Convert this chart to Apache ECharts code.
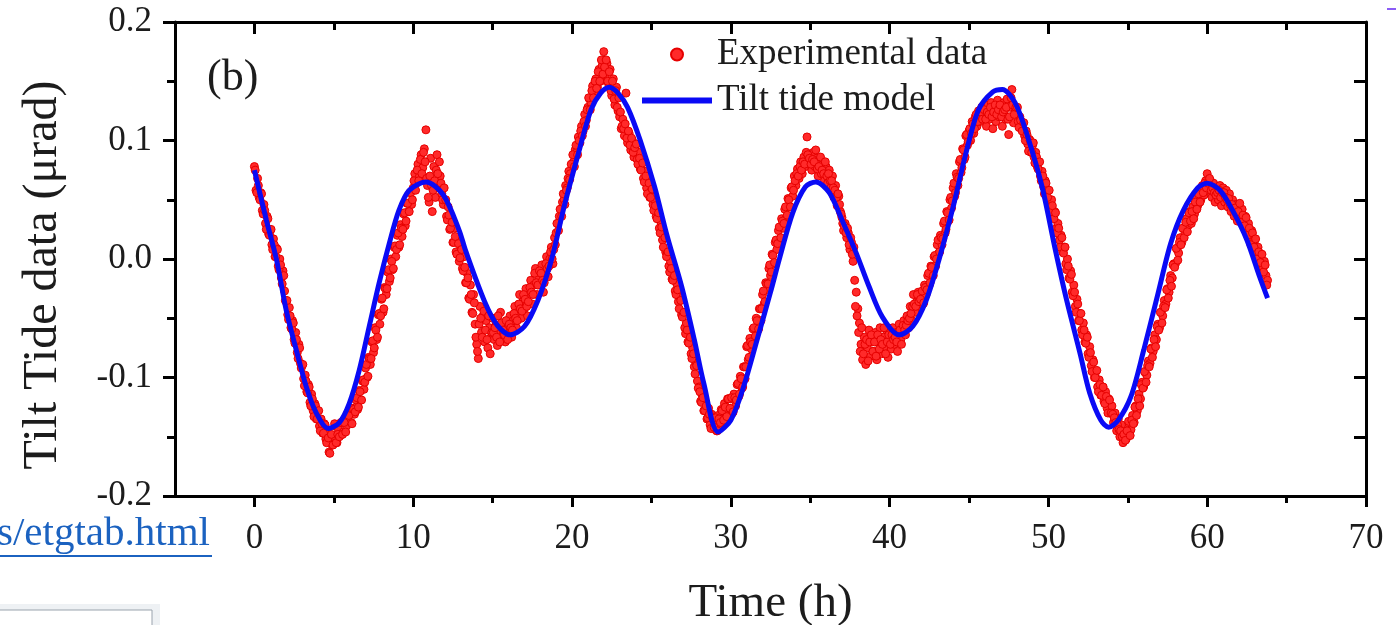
<!DOCTYPE html>
<html><head><meta charset="utf-8">
<script src="https://cdn.jsdelivr.net/npm/echarts@6/dist/echarts.min.js"></script>
<style>html,body{margin:0;padding:0;background:#fff}#c{width:1396px;height:625px}</style>
</head><body><div id="c"></div><script>
// ---- data ----
const xLabelValues = [0, 10, 20, 30, 40, 50, 60, 70];
const xMinorValues = [5, 15, 25, 35, 45, 55, 65];
const legendNames = ['Experimental data', 'Tilt tide model'];
// Tilt tide model: [time (h), tilt (µrad)]
const modelCurve = [
[0.0,0.075],[0.75,0.033],[1.4,-0.001],[2.0,-0.043],[2.64,-0.077],[3.27,-0.108],[3.9,-0.130],[4.65,-0.143],[5.35,-0.138],[5.97,-0.122],
[6.6,-0.094],[7.23,-0.057],[7.86,-0.020],[8.49,0.013],[9.1,0.041],[9.75,0.058],[10.8,0.065],[11.9,0.054],[12.9,0.024],[13.3,0.007],
[14.5,-0.036],[15.3,-0.056],[16.1,-0.064],[17.0,-0.057],[17.85,-0.035],[18.7,-0.001],[19.5,0.044],[20.4,0.089],[21.2,0.126],[21.8,0.140],
[22.35,0.145],[22.9,0.140],[23.5,0.128],[24.3,0.100],[25.2,0.061],[26.0,0.019],[26.9,-0.023],[27.7,-0.068],[28.3,-0.105],[29.2,-0.146],
[30.0,-0.136],[30.8,-0.108],[31.7,-0.066],[32.5,-0.028],[33.1,0.002],[33.9,0.039],[34.7,0.061],[35.35,0.065],[36.2,0.056],[37.0,0.033],
[37.9,0.005],[38.7,-0.023],[39.55,-0.049],[40.6,-0.064],[41.45,-0.057],[42.3,-0.035],[43.1,-0.001],[44.0,0.044],[44.8,0.089],[45.6,0.126],
[46.5,0.141],[47.1,0.143],[47.9,0.132],[48.7,0.103],[49.6,0.061],[50.4,0.010],[51.1,-0.032],[52.0,-0.080],[52.6,-0.113],[53.3,-0.136],
[53.8,-0.142],[54.4,-0.136],[55.2,-0.116],[56.0,-0.077],[56.85,-0.032],[57.7,0.013],[58.5,0.041],[59.4,0.060],[60.0,0.064],[60.8,0.058],
[61.6,0.041],[62.5,0.016],[63.3,-0.015],[63.8,-0.033]
];
// Experimental data, one row per hour: samples at h + 0.0, 0.1, ... 0.9
const expRowsA = [
[0.078,0.058,0.068,0.052,0.056,0.041,0.046,0.030,0.036,0.021],
[0.024,0.012,0.017,0.002,0.009,-0.006,0.000,-0.016,-0.010,-0.027],
[-0.036,-0.047,-0.041,-0.058,-0.052,-0.068,-0.062,-0.079,-0.072,-0.088],
[-0.090,-0.101,-0.098,-0.112,-0.106,-0.121,-0.114,-0.128,-0.122,-0.135],
[-0.128,-0.141,-0.135,-0.147,-0.139,-0.152,-0.145,-0.163,-0.150,-0.157],
[-0.150,-0.141,-0.155,-0.144,-0.149,-0.138,-0.146,-0.135,-0.141,-0.130],
[-0.128,-0.138,-0.126,-0.131,-0.119,-0.127,-0.111,-0.119,-0.103,-0.110],
[-0.092,-0.100,-0.083,-0.089,-0.070,-0.079,-0.058,-0.068,-0.047,-0.055],
[-0.034,-0.045,-0.024,-0.030,-0.011,-0.019,0.000,-0.009,0.010,0.002],
[0.020,0.010,0.029,0.019,0.038,0.028,0.047,0.040,0.056,0.046],
[0.060,0.072,0.064,0.080,0.070,0.088,0.077,0.093,0.109,0.062],
[0.048,0.085,0.040,0.078,0.052,0.088,0.060,0.070,0.055,0.046],
[0.050,0.036,0.044,0.025,0.035,0.014,0.026,0.006,0.018,-0.002],
[0.010,-0.008,0.002,-0.020,-0.012,-0.033,-0.022,-0.045,-0.030,-0.055],
[-0.072,-0.084,-0.040,-0.062,-0.048,-0.070,-0.052,-0.075,-0.058,-0.066],
[-0.050,-0.068,-0.056,-0.073,-0.060,-0.045,-0.066,-0.055,-0.070,-0.058],
[-0.062,-0.048,-0.066,-0.052,-0.040,-0.058,-0.045,-0.030,-0.050,-0.036],
[-0.042,-0.025,-0.048,-0.030,-0.018,-0.038,-0.022,-0.008,-0.030,-0.015],
[-0.022,-0.005,-0.028,-0.012,0.002,-0.015,0.000,0.010,-0.004,0.018],
[0.022,0.030,0.036,0.042,0.048,0.050,0.062,0.060,0.074,0.072],
[0.080,0.082,0.092,0.090,0.103,0.098,0.112,0.108,0.122,0.117],
[0.128,0.135,0.132,0.146,0.140,0.152,0.145,0.160,0.150,0.163],
[0.175,0.155,0.165,0.148,0.160,0.138,0.152,0.130,0.145,0.125],
[0.120,0.110,0.118,0.104,0.140,0.098,0.106,0.092,0.100,0.086],
[0.096,0.084,0.090,0.076,0.082,0.068,0.074,0.060,0.066,0.052],
[0.058,0.046,0.050,0.036,0.040,0.026,0.031,0.016,0.021,0.006],
[0.005,-0.006,-0.002,-0.017,-0.012,-0.027,-0.021,-0.036,-0.032,-0.047],
[-0.045,-0.058,-0.054,-0.070,-0.064,-0.080,-0.075,-0.091,-0.087,-0.103],
[-0.108,-0.120,-0.115,-0.128,-0.122,-0.135,-0.126,-0.140,-0.131,-0.143],
[-0.136,-0.145,-0.132,-0.141,-0.127,-0.138,-0.122,-0.133,-0.118,-0.128],
[-0.118,-0.130,-0.114,-0.124,-0.106,-0.116,-0.099,-0.109,-0.091,-0.101],
[-0.074,-0.085,-0.067,-0.076,-0.059,-0.068,-0.050,-0.060,-0.042,-0.052],
[-0.030,-0.038,-0.020,-0.026,-0.008,-0.014,0.004,-0.004,0.014,0.008],
[0.024,0.016,0.034,0.026,0.042,0.035,0.051,0.044,0.060,0.053],
[0.070,0.062,0.076,0.068,0.082,0.072,0.086,0.078,0.103,0.080],
[0.088,0.075,0.090,0.078,0.085,0.070,0.083,0.072,0.080,0.066],
[0.078,0.064,0.075,0.060,0.070,0.052,0.062,0.045,0.053,0.040],
[0.035,0.024,0.030,0.018,0.022,0.008,0.014,-0.002,-0.018,-0.028],
[-0.042,-0.054,-0.072,-0.085,-0.066,-0.089,-0.075,-0.060,-0.082,-0.070],
[-0.078,-0.062,-0.085,-0.070,-0.058,-0.080,-0.066,-0.074,-0.060,-0.083],
[-0.068,-0.076,-0.058,-0.072,-0.062,-0.078,-0.055,-0.068,-0.060,-0.052],
[-0.064,-0.048,-0.058,-0.040,-0.052,-0.030,-0.045,-0.036,-0.028,-0.040],
[-0.030,-0.038,-0.022,-0.030,-0.014,-0.022,-0.006,-0.014,0.002,-0.006],
[0.012,0.005,0.020,0.012,0.030,0.022,0.040,0.032,0.050,0.043],
[0.060,0.053,0.072,0.062,0.082,0.073,0.093,0.084,0.104,0.096],
[0.108,0.100,0.116,0.106,0.120,0.112,0.125,0.116,0.128,0.120],
[0.124,0.112,0.130,0.118,0.132,0.110,0.128,0.116,0.134,0.120],
[0.126,0.112,0.132,0.118,0.135,0.105,0.128,0.143,0.115,0.124],
[0.126,0.116,0.120,0.110,0.115,0.104,0.108,0.097,0.101,0.090],
[0.096,0.086,0.090,0.078,0.082,0.070,0.074,0.061,0.066,0.052],
[0.058,0.044,0.050,0.036,0.040,0.026,0.030,0.016,0.020,0.006],
[0.010,-0.004,0.000,-0.016,-0.010,-0.028,-0.022,-0.040,-0.034,-0.052],
[-0.046,-0.060,-0.054,-0.070,-0.064,-0.080,-0.074,-0.090,-0.085,-0.100],
[-0.095,-0.108,-0.102,-0.115,-0.108,-0.120,-0.112,-0.126,-0.118,-0.130],
[-0.124,-0.138,-0.130,-0.145,-0.135,-0.150,-0.140,-0.155,-0.146,-0.152],
[-0.148,-0.140,-0.144,-0.132,-0.138,-0.124,-0.128,-0.114,-0.118,-0.104],
[-0.108,-0.096,-0.098,-0.086,-0.088,-0.075,-0.078,-0.064,-0.068,-0.055],
[-0.058,-0.045,-0.048,-0.035,-0.038,-0.025,-0.028,-0.014,-0.016,-0.004],
[-0.004,0.008,0.005,0.018,0.014,0.026,0.022,0.034,0.028,0.040],
[0.030,0.044,0.038,0.052,0.045,0.058,0.050,0.062,0.054,0.066],
[0.072,0.058,0.066,0.052,0.064,0.048,0.060,0.050,0.062,0.045],
[0.060,0.048,0.058,0.044,0.055,0.040,0.050,0.036,0.046,0.032],
[0.046,0.034,0.042,0.028,0.036,0.022,0.030,0.016,0.024,0.010],
[0.016,0.004,0.010,-0.003,0.004,-0.008,-0.002,-0.014,-0.018]
];
// Experimental data, one row per hour: samples at h + 0.05, 0.15, ... 0.95
const expRowsB = [
[0.075,0.056,0.062,0.050,0.055,0.038,0.041,0.025,0.034,0.020],
[0.025,0.008,0.012,0.002,0.008,-0.009,-0.005,-0.021,-0.014,-0.035],
[-0.035,-0.051,-0.048,-0.059,-0.054,-0.071,-0.068,-0.084,-0.075,-0.092],
[-0.089,-0.107,-0.103,-0.113,-0.108,-0.124,-0.118,-0.133,-0.124,-0.135],
[-0.128,-0.145,-0.139,-0.147,-0.140,-0.155,-0.151,-0.164,-0.148,-0.157],
[-0.139,-0.155,-0.148,-0.150,-0.138,-0.148,-0.138,-0.146,-0.131,-0.132],
[-0.126,-0.139,-0.127,-0.129,-0.117,-0.125,-0.112,-0.119,-0.102,-0.104],
[-0.089,-0.099,-0.084,-0.084,-0.069,-0.075,-0.060,-0.066,-0.046,-0.048],
[-0.033,-0.042,-0.025,-0.025,-0.009,-0.016,-0.002,-0.008,0.011,0.008],
[0.022,0.012,0.026,0.025,0.039,0.032,0.047,0.040,0.056,0.050],
[0.066,0.058,0.075,0.066,0.084,0.072,0.090,0.082,0.068,0.052],
[0.070,0.062,0.058,0.066,0.075,0.072,0.082,0.064,0.050,0.060],
[0.050,0.033,0.037,0.026,0.031,0.014,0.019,0.004,0.013,0.001],
[0.008,-0.010,-0.007,-0.020,-0.016,-0.034,-0.030,-0.046,-0.037,-0.066],
[-0.078,-0.055,-0.050,-0.066,-0.044,-0.060,-0.068,-0.048,-0.080,-0.062],
[-0.062,-0.058,-0.066,-0.048,-0.070,-0.054,-0.060,-0.064,-0.052,-0.068],
[-0.055,-0.058,-0.060,-0.046,-0.050,-0.052,-0.038,-0.042,-0.044,-0.030],
[-0.034,-0.040,-0.036,-0.024,-0.028,-0.030,-0.012,-0.020,-0.022,-0.010],
[-0.012,-0.018,-0.020,-0.004,-0.008,-0.006,0.006,0.000,0.008,0.012],
[0.030,0.024,0.042,0.036,0.055,0.046,0.058,0.068,0.067,0.080],
[0.088,0.078,0.096,0.088,0.100,0.108,0.104,0.116,0.112,0.126],
[0.136,0.126,0.142,0.136,0.150,0.144,0.158,0.150,0.168,0.156],
[0.162,0.168,0.150,0.158,0.142,0.150,0.135,0.142,0.128,0.136],
[0.124,0.112,0.110,0.114,0.102,0.108,0.096,0.102,0.090,0.094],
[0.097,0.080,0.085,0.075,0.081,0.065,0.070,0.055,0.064,0.052],
[0.059,0.041,0.045,0.034,0.039,0.022,0.027,0.010,0.018,0.002],
[0.006,-0.011,-0.008,-0.018,-0.014,-0.030,-0.026,-0.042,-0.035,-0.049],
[-0.045,-0.063,-0.060,-0.071,-0.066,-0.084,-0.080,-0.097,-0.090,-0.109],
[-0.112,-0.121,-0.117,-0.128,-0.124,-0.134,-0.131,-0.143,-0.134,-0.142],
[-0.134,-0.145,-0.135,-0.138,-0.128,-0.136,-0.125,-0.133,-0.118,-0.126],
[-0.117,-0.129,-0.117,-0.119,-0.105,-0.114,-0.101,-0.108,-0.091,-0.091],
[-0.073,-0.083,-0.070,-0.072,-0.058,-0.065,-0.052,-0.059,-0.042,-0.042],
[-0.027,-0.036,-0.021,-0.021,-0.005,-0.011,0.003,-0.003,0.016,0.013],
[0.027,0.018,0.032,0.030,0.044,0.037,0.050,0.044,0.061,0.058],
[0.066,0.072,0.070,0.078,0.075,0.082,0.080,0.090,0.088,0.085],
[0.080,0.084,0.082,0.092,0.076,0.078,0.086,0.075,0.072,0.082],
[0.070,0.072,0.066,0.066,0.060,0.058,0.052,0.055,0.046,0.038],
[0.030,0.028,0.022,0.026,0.012,0.018,0.004,0.010,-0.040,-0.048],
[-0.062,-0.078,-0.058,-0.080,-0.072,-0.068,-0.086,-0.070,-0.064,-0.078],
[-0.070,-0.082,-0.064,-0.076,-0.068,-0.072,-0.058,-0.080,-0.070,-0.064],
[-0.072,-0.064,-0.068,-0.066,-0.070,-0.062,-0.060,-0.072,-0.056,-0.060],
[-0.056,-0.052,-0.050,-0.046,-0.040,-0.038,-0.040,-0.030,-0.036,-0.034],
[-0.027,-0.037,-0.024,-0.026,-0.012,-0.020,-0.007,-0.014,0.003,0.000],
[0.016,0.006,0.018,0.017,0.032,0.025,0.039,0.033,0.052,0.049],
[0.064,0.056,0.069,0.068,0.084,0.077,0.092,0.086,0.105,0.099],
[0.110,0.106,0.114,0.110,0.122,0.116,0.122,0.124,0.118,0.126],
[0.118,0.124,0.122,0.128,0.120,0.124,0.130,0.122,0.126,0.130],
[0.120,0.124,0.126,0.128,0.118,0.120,0.136,0.130,0.122,0.128],
[0.128,0.111,0.117,0.108,0.115,0.100,0.105,0.091,0.100,0.090],
[0.098,0.081,0.086,0.076,0.082,0.066,0.070,0.055,0.064,0.052],
[0.058,0.040,0.045,0.034,0.039,0.022,0.026,0.010,0.018,0.005],
[0.010,-0.009,-0.006,-0.017,-0.013,-0.031,-0.028,-0.045,-0.038,-0.052],
[-0.046,-0.064,-0.060,-0.071,-0.066,-0.083,-0.079,-0.095,-0.087,-0.100],
[-0.094,-0.112,-0.106,-0.115,-0.108,-0.122,-0.116,-0.130,-0.119,-0.130],
[-0.131,-0.134,-0.138,-0.140,-0.144,-0.145,-0.150,-0.148,-0.153,-0.145],
[-0.137,-0.149,-0.136,-0.139,-0.125,-0.132,-0.118,-0.124,-0.106,-0.109],
[-0.095,-0.104,-0.090,-0.091,-0.076,-0.083,-0.068,-0.074,-0.057,-0.060],
[-0.045,-0.054,-0.040,-0.041,-0.026,-0.033,-0.018,-0.023,-0.005,-0.007],
[0.009,-0.001,0.014,0.012,0.026,0.018,0.031,0.023,0.039,0.032],
[0.040,0.034,0.048,0.042,0.055,0.048,0.060,0.056,0.064,0.060],
[0.064,0.068,0.058,0.060,0.056,0.054,0.056,0.058,0.052,0.056],
[0.056,0.052,0.050,0.051,0.046,0.046,0.042,0.043,0.038,0.040],
[0.047,0.031,0.037,0.028,0.035,0.020,0.026,0.012,0.022,0.010],
[0.017,0.000,0.006,-0.003,0.004,-0.011,-0.005,-0.022]
];

// ---- build ----
const expData = [];
expRowsA.forEach((row, h) => row.forEach((v, i) => expData.push([+(h + i / 10).toFixed(2), v])));
expRowsB.forEach((row, h) => row.forEach((v, i) => expData.push([+(h + 0.05 + i / 10).toFixed(2), v])));

const FONT = "'Liberation Serif','Times New Roman',serif";
const TXT = '#1c1c1c';
const chart = echarts.init(document.getElementById('c'), null, { renderer: 'canvas' });
const gridRect = { left: 175, right: 30, top: 22, bottom: 129, outerBoundsMode: 'none', containLabel: false };
const axLine = { show: true, onZero: false, lineStyle: { color: '#000', width: 3 } };
const noLine = { show: false, onZero: false };
const tickStyle = { color: '#000', width: 3 };

chart.setOption({
  animation: false,
  backgroundColor: '#fff',
  grid: [Object.assign({}, gridRect), Object.assign({}, gridRect)],
  legend: {
    orient: 'vertical', left: 634, top: 31, itemWidth: 70, itemHeight: 12, itemGap: 9,
    textStyle: { fontSize: 37, fontFamily: FONT, color: TXT, lineHeight: 37 },
    data: [
      { name: legendNames[0] },
      { name: legendNames[1], itemStyle: { opacity: 0 }, lineStyle: { width: 6, color: '#0a0af5' } }
    ]
  },
  xAxis: [
    { type: 'value', gridIndex: 0, position: 'bottom', min: -5, max: 70, interval: 5,
      axisLine: axLine, splitLine: { show: false },
      axisTick: { show: true, inside: false, length: 11, lineStyle: tickStyle, customValues: xLabelValues },
      axisLabel: { show: true, margin: 25, fontSize: 35, fontFamily: FONT, color: TXT, customValues: xLabelValues },
      name: 'Time (h)', nameLocation: 'middle', nameGap: 84,
      nameTextStyle: { fontSize: 47, fontFamily: FONT, color: TXT } },
    { type: 'value', gridIndex: 0, position: 'top', min: -5, max: 70, interval: 5,
      axisLine: axLine, splitLine: { show: false },
      axisTick: { show: true, inside: true, length: 12, lineStyle: tickStyle, customValues: xLabelValues },
      axisLabel: { show: false } },
    { type: 'value', gridIndex: 1, position: 'bottom', min: -5, max: 70, interval: 5,
      axisLine: noLine, splitLine: { show: false },
      axisTick: { show: true, inside: false, length: 7, lineStyle: tickStyle, customValues: xMinorValues },
      axisLabel: { show: false } },
    { type: 'value', gridIndex: 1, position: 'top', min: -5, max: 70, interval: 5,
      axisLine: noLine, splitLine: { show: false },
      axisTick: { show: true, inside: true, length: 8, lineStyle: tickStyle, customValues: xMinorValues },
      axisLabel: { show: false } }
  ],
  yAxis: [
    { type: 'value', gridIndex: 0, position: 'left', min: -0.2, max: 0.2, interval: 0.1,
      axisLine: axLine, splitLine: { show: false },
      axisTick: { show: true, inside: false, length: 12, lineStyle: tickStyle },
      minorTick: { show: true, splitNumber: 2, length: 8, lineStyle: tickStyle },
      axisLabel: { margin: 23, fontSize: 35, fontFamily: FONT, color: TXT, formatter: v => v.toFixed(1) },
      name: 'Tilt Tide data (μrad)', nameLocation: 'middle', nameGap: 108,
      nameTextStyle: { fontSize: 48, fontFamily: FONT, color: TXT, padding: [0, 32, 0, 0] } },
    { type: 'value', gridIndex: 0, position: 'right', min: -0.2, max: 0.2, interval: 0.1,
      axisLine: axLine, splitLine: { show: false },
      axisTick: { show: true, inside: true, length: 12, lineStyle: tickStyle },
      minorTick: { show: true, splitNumber: 2, length: 12, lineStyle: tickStyle },
      axisLabel: { show: false } },
    { type: 'value', gridIndex: 1, min: -0.2, max: 0.2, show: false }
  ],
  graphic: [
    { type: 'text', left: 207, top: 56, style: { text: '(b)', fontSize: 44, fontFamily: FONT, fill: TXT } },
    { type: 'text', left: -3, top: 514, style: { text: 's/etgtab.html', fontSize: 41, fontFamily: FONT, fill: '#1b62c0' } },
    { type: 'line', shape: { x1: 0, y1: 556, x2: 212, y2: 556 }, style: { stroke: '#1b62c0', lineWidth: 2 } },
    { type: 'rect', shape: { x: -1, y: 604, width: 161, height: 30 }, style: { fill: '#eef1f4' } },
    { type: 'rect', shape: { x: -1, y: 610, width: 153, height: 30 }, style: { fill: '#ffffff', stroke: '#9aa3ad', lineWidth: 1 } },
    { type: 'line', shape: { x1: 1387, y1: 9, x2: 1396, y2: 9 }, style: { stroke: '#8b5cf6', lineWidth: 2 } }
  ],
  series: [
    { name: legendNames[0], type: 'scatter', xAxisIndex: 0, yAxisIndex: 0, data: expData,
      symbol: 'circle', symbolSize: 8,
      itemStyle: { color: '#ff2a2a', borderColor: '#e60000', borderWidth: 1, opacity: 1 },
      z: 2 },
    { name: legendNames[1], type: 'line', xAxisIndex: 0, yAxisIndex: 0, data: modelCurve,
      smooth: 0.3, showSymbol: false, symbol: 'none',
      lineStyle: { color: '#0a0af5', width: 5 }, itemStyle: { color: '#0a0af5' },
      z: 3 }
  ]
});
</script></body></html>
